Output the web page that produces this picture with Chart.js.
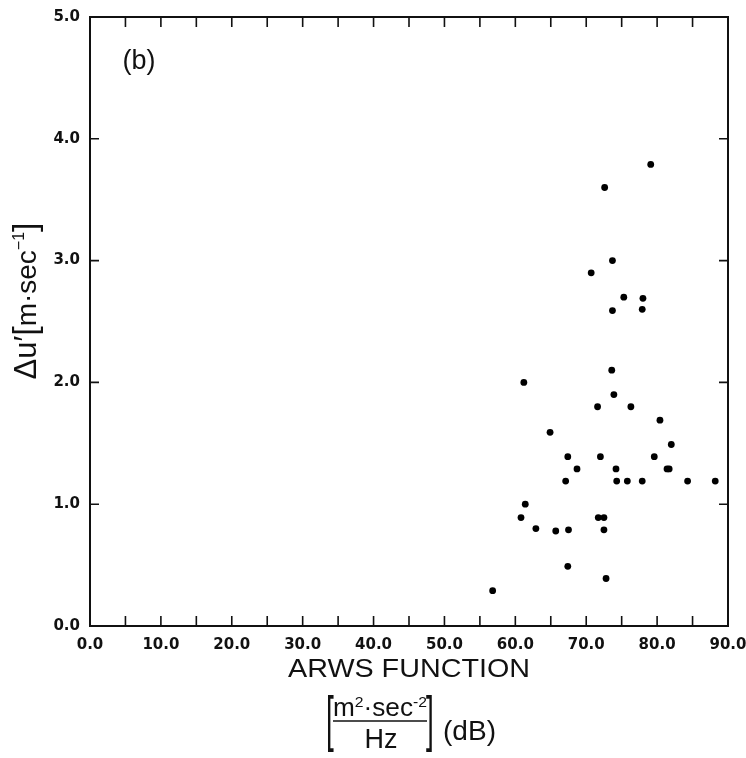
<!DOCTYPE html>
<html>
<head>
<meta charset="utf-8">
<script src="https://cdn.jsdelivr.net/npm/chart.js@4/dist/chart.umd.min.js"></script>
<style>
  html, body { margin: 0; padding: 0; background: #fff; }
  #wrap { width: 746px; height: 758px; }
</style>
</head>
<body>
<div id="wrap"><canvas id="c" width="746" height="758"></canvas></div>
<script>
// ---- data ----
const arwsValues = [79.1, 72.6, 73.7, 70.7, 75.3, 78.0, 73.7, 77.9, 73.6, 61.2,
                    73.9, 71.6, 76.3, 80.4, 64.9, 82.0, 67.4, 72.0, 79.6, 68.7,
                    74.2, 81.4, 81.7, 67.1, 74.3, 75.8, 77.9, 84.3, 88.2, 61.4,
                    60.8, 71.7, 72.5, 62.9, 65.7, 67.5, 72.5, 67.4, 72.8, 56.8];
const duValues   = [3.79, 3.60, 3.00, 2.90, 2.70, 2.69, 2.59, 2.60, 2.10, 2.00,
                    1.90, 1.80, 1.80, 1.69, 1.59, 1.49, 1.39, 1.39, 1.39, 1.29,
                    1.29, 1.29, 1.29, 1.19, 1.19, 1.19, 1.19, 1.19, 1.19, 1.00,
                    0.89, 0.89, 0.89, 0.80, 0.78, 0.79, 0.79, 0.49, 0.39, 0.29];
const xTickLabels = ['0.0','10.0','20.0','30.0','40.0','50.0','60.0','70.0','80.0','90.0'];
const yTickLabels = ['0.0','1.0','2.0','3.0','4.0','5.0'];
const panelLabel = '(b)';
const xTitle = 'ARWS FUNCTION';

const points = arwsValues.map((x, i) => ({ x: x, y: duValues[i] }));

function drawRich(ctx, segs, x, y, targetW, align) {
  let w = 0;
  segs.forEach(s => { ctx.font = s.size + 'px "Liberation Sans", Arial, sans-serif'; s.w = ctx.measureText(s.t).width; w += s.w; });
  const k = targetW ? targetW / w : 1;
  ctx.save();
  const startX = align === 'center' ? x - (w * k) / 2 : x;
  ctx.translate(startX, y);
  ctx.scale(k, 1);
  let cx = 0;
  segs.forEach(s => {
    ctx.font = s.size + 'px "Liberation Sans", Arial, sans-serif';
    ctx.textBaseline = 'alphabetic';
    ctx.textAlign = 'left';
    ctx.fillText(s.t, cx, s.dy || 0);
    cx += s.w;
  });
  ctx.restore();
}

const framePlugin = {
  id: 'frame',
  afterDraw(chart) {
    const ctx = chart.ctx;
    const xs = chart.scales.x, ys = chart.scales.y;
    const L = xs.left, R = xs.right, T = ys.top, B = ys.bottom;
    ctx.save();
    ctx.strokeStyle = '#111';
    ctx.fillStyle = '#111';
    ctx.lineWidth = 2;
    ctx.strokeRect(L, T, R - L, B - T);
    ctx.lineWidth = 1.6;
    ctx.beginPath();
    for (let v = 5; v < 90; v += 5) {
      const px = xs.getPixelForValue(v);
      ctx.moveTo(px, B); ctx.lineTo(px, B - 10);
      ctx.moveTo(px, T); ctx.lineTo(px, T + 10);
    }
    for (let v = 1; v < 5; v += 1) {
      const py = ys.getPixelForValue(v);
      ctx.moveTo(L, py); ctx.lineTo(L + 9, py);
      ctx.moveTo(R, py); ctx.lineTo(R - 9, py);
    }
    ctx.stroke();

    // panel label
    ctx.font = '27px "Liberation Sans", Arial, sans-serif';
    ctx.textAlign = 'center';
    ctx.textBaseline = 'middle';
    ctx.fillText(panelLabel, 139, 62);

    // x title
    drawRich(ctx, [{ t: xTitle, size: 26 }], 409, 677, 242, 'center');

    // unit fraction with brackets
    drawRich(ctx, [{ t: 'm', size: 25 }, { t: '2', size: 15, dy: -9 }, { t: '·sec', size: 25 }, { t: '-2', size: 15, dy: -9 }],
             380, 716, 94, 'center');
    ctx.lineWidth = 1.6;
    ctx.beginPath();
    ctx.moveTo(333, 721); ctx.lineTo(427, 721);
    ctx.stroke();
    drawRich(ctx, [{ t: 'Hz', size: 28 }], 381, 748, 33, 'center');
    ['[', ']'].forEach((b, i) => {
      ctx.save();
      ctx.font = '28px "Liberation Sans", Arial, sans-serif';
      ctx.textAlign = 'center';
      ctx.textBaseline = 'middle';
      ctx.translate(i === 0 ? 330 : 430, 722);
      ctx.scale(1, 2.15);
      ctx.fillText(b, 0, 0);
      ctx.restore();
    });
    drawRich(ctx, [{ t: '(dB)', size: 28 }], 443, 740, 53, 'left');

    // y title (rotated)
    ctx.save();
    ctx.translate(36, 301);
    ctx.rotate(-Math.PI / 2);
    drawRich(ctx, [{ t: 'Δu′', size: 31 }, { t: '[', size: 34 }, { t: 'm·sec', size: 28 }, { t: '−1', size: 16, dy: -12 }, { t: ']', size: 34 }],
             0, 0, 157, 'center');
    ctx.restore();
    ctx.restore();
  }
};

new Chart(document.getElementById('c'), {
  type: 'scatter',
  data: {
    datasets: [{
      data: points,
      backgroundColor: '#000',
      borderColor: '#000',
      pointRadius: 3.4,
      pointHoverRadius: 3.4,
      borderWidth: 0
    }]
  },
  options: {
    responsive: false,
    devicePixelRatio: 1,
    animation: false,
    events: [],
    layout: { padding: { left: 0, top: 17, right: 18, bottom: 0 } },
    plugins: { legend: { display: false }, tooltip: { enabled: false } },
    scales: {
      x: {
        type: 'linear', min: 0, max: 90,
        grid: { display: false, drawTicks: false },
        border: { display: false },
        afterFit(s) { s.height = 132; s.paddingLeft = 0; s.paddingRight = 0; },
        ticks: {
          stepSize: 5, autoSkip: false, maxRotation: 0, padding: 10,
          color: '#111',
          font: { family: '"DejaVu Sans", sans-serif', size: 15, weight: 'bold' },
          callback: (v) => (v % 10 === 0 ? xTickLabels[v / 10] : '')
        }
      },
      y: {
        type: 'linear', min: 0, max: 5,
        grid: { display: false, drawTicks: false },
        border: { display: false },
        afterFit(s) { s.width = 90; s.paddingTop = 0; s.paddingBottom = 0; },
        ticks: {
          stepSize: 1, autoSkip: false, padding: 10,
          color: '#111',
          font: { family: '"DejaVu Sans", sans-serif', size: 15, weight: 'bold' },
          callback: (v) => yTickLabels[v]
        }
      }
    }
  },
  plugins: [framePlugin]
});
</script>
</body>
</html>
